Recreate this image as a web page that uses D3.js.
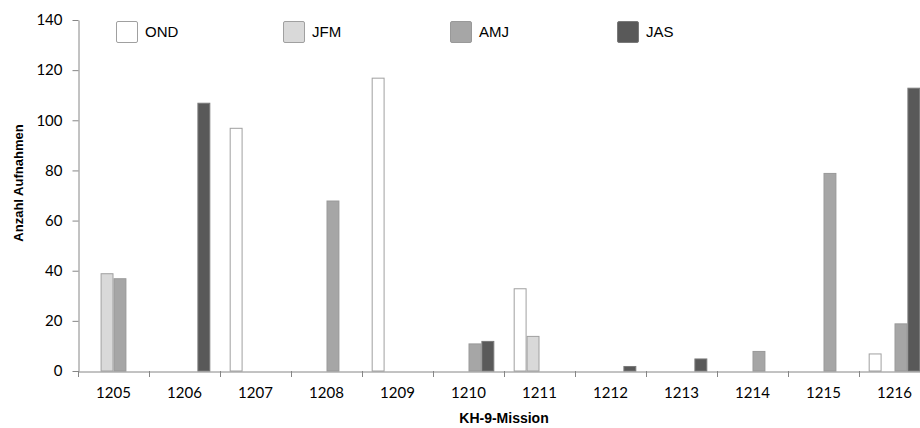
<!DOCTYPE html>
<html>
<head>
<meta charset="utf-8">
<script src="https://cdn.jsdelivr.net/npm/d3@7"></script>
<style>
  html, body { margin: 0; padding: 0; background: #fff; }
  svg { display: block; }
</style>
</head>
<body>
<svg id="chart" width="920" height="428"></svg>
<script>
const missions = ["1205","1206","1207","1208","1209","1210","1211","1212","1213","1214","1215","1216"];
const seriesNames = ["OND","JFM","AMJ","JAS"];
const ond = [0, 0, 97, 0, 117, 0, 33, 0, 0, 0, 0, 7];
const jfm = [39, 0, 0, 0, 0, 0, 14, 0, 0, 0, 0, 0];
const amj = [37, 0, 0, 68, 0, 11, 0, 0, 0, 8, 79, 19];
const jas = [0, 107, 0, 0, 0, 12, 0, 2, 5, 0, 0, 113];
const yTicks = [0, 20, 40, 60, 80, 100, 120, 140];

(function () {
const seriesValues = { OND: ond, JFM: jfm, AMJ: amj, JAS: jas };
const fills = { OND: "#ffffff", JFM: "#d9d9d9", AMJ: "#a6a6a6", JAS: "#595959" };
const strokes = { OND: "#a0a0a0", JFM: "#a0a0a0", AMJ: "#999999", JAS: "#7a7a7a" };

const svg = d3.select("#chart");
const mLeft = 78, mTop = 20, mBottom = 371;
const step = 71;

const x0 = d3.scaleBand().domain(missions).range([mLeft, mLeft + step * missions.length]).paddingInner(0).paddingOuter(0);
const x1 = d3.scaleBand().domain(seriesNames).range([0, x0.bandwidth()]).paddingInner(0).paddingOuter(0.75);
const y = d3.scaleLinear().domain([0, 140]).range([mBottom, mTop]);

const axisColor = "#868686";
const tickFont = "Lato, 'Open Sans', sans-serif";

// bars
const data = [];
missions.forEach((m, i) => {
  seriesNames.forEach(s => {
    const v = seriesValues[s][i];
    if (v > 0) data.push({ m, s, v });
  });
});
svg.append("g").selectAll("rect").data(data).join("rect")
  .attr("x", d => x0(d.m) + x1(d.s) + 0.5)
  .attr("y", d => y(d.v) + 0.5)
  .attr("width", x1.bandwidth() - 1)
  .attr("height", d => y(0) - y(d.v) - 0.5)
  .attr("fill", d => fills[d.s])
  .attr("stroke", d => strokes[d.s])
  .attr("stroke-width", 1);

// y axis
const yAxis = d3.axisLeft(y).tickValues(yTicks).tickSize(6).tickPadding(10).tickSizeOuter(0);
const gy = svg.append("g").attr("transform", `translate(${mLeft + 0.5},0)`).call(yAxis);
gy.select(".domain").attr("stroke", axisColor);
gy.selectAll(".tick line").attr("stroke", axisColor);
gy.selectAll(".tick text").attr("fill", "#000").style("font-family", tickFont).style("font-size", "15px");

// x axis
const xAxis = d3.axisBottom(x0).tickSize(0).tickPadding(16);
const gx = svg.append("g").attr("transform", `translate(0,${mBottom + 0.5})`).call(xAxis);
gx.select(".domain").attr("stroke", axisColor);
gx.selectAll(".tick text").attr("fill", "#000").style("font-family", tickFont).style("font-size", "15px");
// category boundary ticks
svg.append("g").selectAll("line").data(missions).join("line")
  .attr("x1", d => Math.round(x0(d)) + 0.5)
  .attr("x2", d => Math.round(x0(d)) + 0.5)
  .attr("y1", mBottom)
  .attr("y2", mBottom + 6)
  .attr("stroke", axisColor);

// axis titles
svg.append("text")
  .attr("transform", `translate(23,183) rotate(-90)`)
  .attr("text-anchor", "middle")
  .style("font-family", "'Liberation Sans', Arial, sans-serif")
  .style("font-weight", "bold")
  .style("font-size", "13px")
  .text("Anzahl Aufnahmen");

svg.append("text")
  .attr("x", 504)
  .attr("y", 423)
  .attr("text-anchor", "middle")
  .style("font-family", "'Liberation Sans', Arial, sans-serif")
  .style("font-weight", "bold")
  .style("font-size", "14px")
  .text("KH-9-Mission");

// legend
const legendX = d3.scalePoint().domain(seriesNames).range([116, 617]);
const lg = svg.append("g").selectAll("g").data(seriesNames).join("g")
  .attr("transform", d => `translate(${legendX(d)},21)`);
lg.append("rect")
  .attr("x", 0.5).attr("y", 0.5)
  .attr("width", 21).attr("height", 21)
  .attr("rx", 1.5)
  .attr("fill", d => fills[d])
  .attr("stroke", d => strokes[d]);
lg.append("text")
  .attr("x", 29).attr("y", 16)
  .style("font-family", "'Liberation Sans', Arial, sans-serif")
  .style("font-size", "15px")
  .text(d => d);
})();
</script>
</body>
</html>
